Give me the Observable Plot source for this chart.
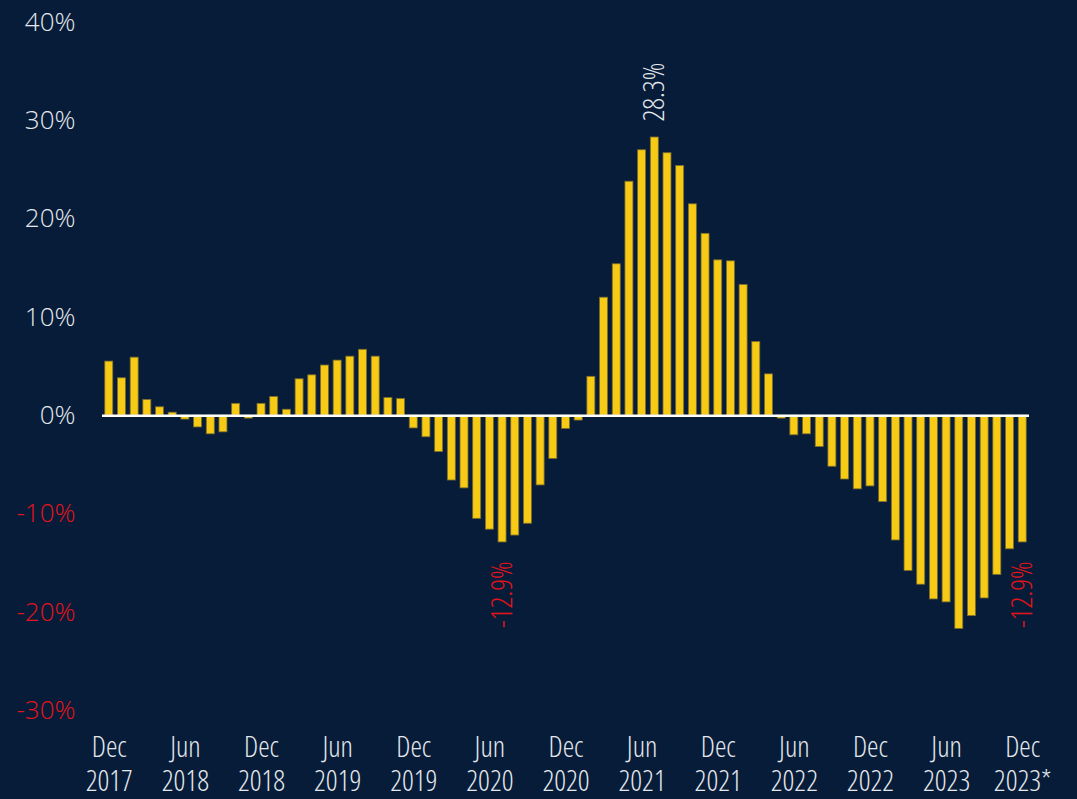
<!DOCTYPE html>
<html>
<head>
<meta charset="utf-8">
<script src="https://cdn.jsdelivr.net/npm/d3@7"></script>
<script src="https://cdn.jsdelivr.net/npm/@observablehq/plot@0.6"></script>
<style>
  html, body { margin: 0; padding: 0; background: #061C38; }
  #chart svg text { font-stretch: 75%; }
  #chart svg g[aria-label="y-axis tick label"] text { font-stretch: 100%; }
</style>
</head>
<body>
<div id="chart"></div>
<script>
const months = [
  "2017-12",
  "2018-01","2018-02","2018-03","2018-04","2018-05","2018-06","2018-07","2018-08","2018-09","2018-10","2018-11","2018-12",
  "2019-01","2019-02","2019-03","2019-04","2019-05","2019-06","2019-07","2019-08","2019-09","2019-10","2019-11","2019-12",
  "2020-01","2020-02","2020-03","2020-04","2020-05","2020-06","2020-07","2020-08","2020-09","2020-10","2020-11","2020-12",
  "2021-01","2021-02","2021-03","2021-04","2021-05","2021-06","2021-07","2021-08","2021-09","2021-10","2021-11","2021-12",
  "2022-01","2022-02","2022-03","2022-04","2022-05","2022-06","2022-07","2022-08","2022-09","2022-10","2022-11","2022-12",
  "2023-01","2023-02","2023-03","2023-04","2023-05","2023-06","2023-07","2023-08","2023-09","2023-10","2023-11","2023-12"
];
const values = [
  5.5,
  3.8, 5.9, 1.6, 0.85, 0.3, -0.4, -1.2, -1.9, -1.7, 1.2, -0.3, 1.2,
  1.9, 0.6, 3.7, 4.1, 5.1, 5.6, 6.0, 6.7, 6.0, 1.8, 1.7, -1.3,
  -2.2, -3.7, -6.6, -7.4, -10.5, -11.6, -12.9, -12.2, -11.0, -7.1, -4.4, -1.35,
  -0.5, 3.95, 12.0, 15.4, 23.8, 27.0, 28.3, 26.7, 25.4, 21.5, 18.5, 15.8,
  15.7, 13.3, 7.5, 4.2, -0.3, -2.0, -1.9, -3.2, -5.2, -6.5, -7.5, -7.2,
  -8.8, -12.7, -15.8, -17.2, -18.7, -19.0, -21.7, -20.4, -18.6, -16.2, -13.6, -12.9
];
const tickMonths = ["2017-12","2018-06","2018-12","2019-06","2019-12","2020-06","2020-12","2021-06","2021-12","2022-06","2022-12","2023-06","2023-12"];
const tickLabels = ["Dec\n2017","Jun\n2018","Dec\n2018","Jun\n2019","Dec\n2019","Jun\n2020","Dec\n2020","Jun\n2021","Dec\n2021","Jun\n2022","Dec\n2022","Jun\n2023","Dec\n2023*"];
const yTicksPos = [0, 10, 20, 30, 40];
const yTicksNeg = [-30, -20, -10];
const peakMonths = ["2021-07"];
const peakValues = [28.3];
const peakLabels = ["28.3%"];
const troughMonths = ["2020-07", "2023-12"];
const troughValues = [-12.9, -12.9];
const troughLabels = ["-12.9%", "-12.9%"];

const data = months.map((m, i) => ({month: m, value: values[i]}));
const peaks = peakMonths.map((m, i) => ({month: m, value: peakValues[i], label: peakLabels[i]}));
const troughs = troughMonths.map((m, i) => ({month: m, value: troughValues[i], label: troughLabels[i]}));

const WHITE = "#E4E7EC";
const RED = "#E3141C";

const chart = Plot.plot({
  width: 1077,
  height: 799,
  marginLeft: 102,
  marginRight: 48,
  marginTop: 22,
  marginBottom: 89,
  style: {
    background: "#061C38",
    color: WHITE,
    fontFamily: "'Open Sans', 'Noto Sans', sans-serif",
    fontSize: "28px",
    fontWeight: 300
  },
  x: {type: "band", domain: months, paddingInner: 0.37, paddingOuter: 0.22, axis: null, label: null},
  y: {domain: [-30, 40], axis: null, label: null},
  marks: [
    Plot.barY(data, {x: "month", y: "value", fill: "#F6CA15", stroke: "#7A6C2C", strokeWidth: 0.8}),
    Plot.ruleY([0], {stroke: "#FFFFFF", strokeWidth: 2.5}),
    Plot.axisY(yTicksPos, {tickSize: 0, tickPadding: 27, label: null, tickFormat: d => d + "%", fill: WHITE, fontSize: 26}),
    Plot.axisY(yTicksNeg, {tickSize: 0, tickPadding: 27, label: null, tickFormat: d => d + "%", fill: RED, fontSize: 26}),
    Plot.axisX(tickMonths, {tickSize: 0, tickPadding: 23, label: null, tickFormat: d => tickLabels[tickMonths.indexOf(d)], fill: WHITE, fontSize: 29, lineHeight: 1.16}),
    Plot.text(peaks, {x: "month", y: "value", text: "label", rotate: -90, textAnchor: "start", lineAnchor: "middle", dy: -16, fill: WHITE, fontSize: 29}),
    Plot.text(troughs, {x: "month", y: "value", text: "label", rotate: -90, textAnchor: "end", lineAnchor: "middle", dy: 19, fill: RED, fontSize: 29})
  ]
});
document.getElementById("chart").appendChild(chart);
</script>
</body>
</html>
